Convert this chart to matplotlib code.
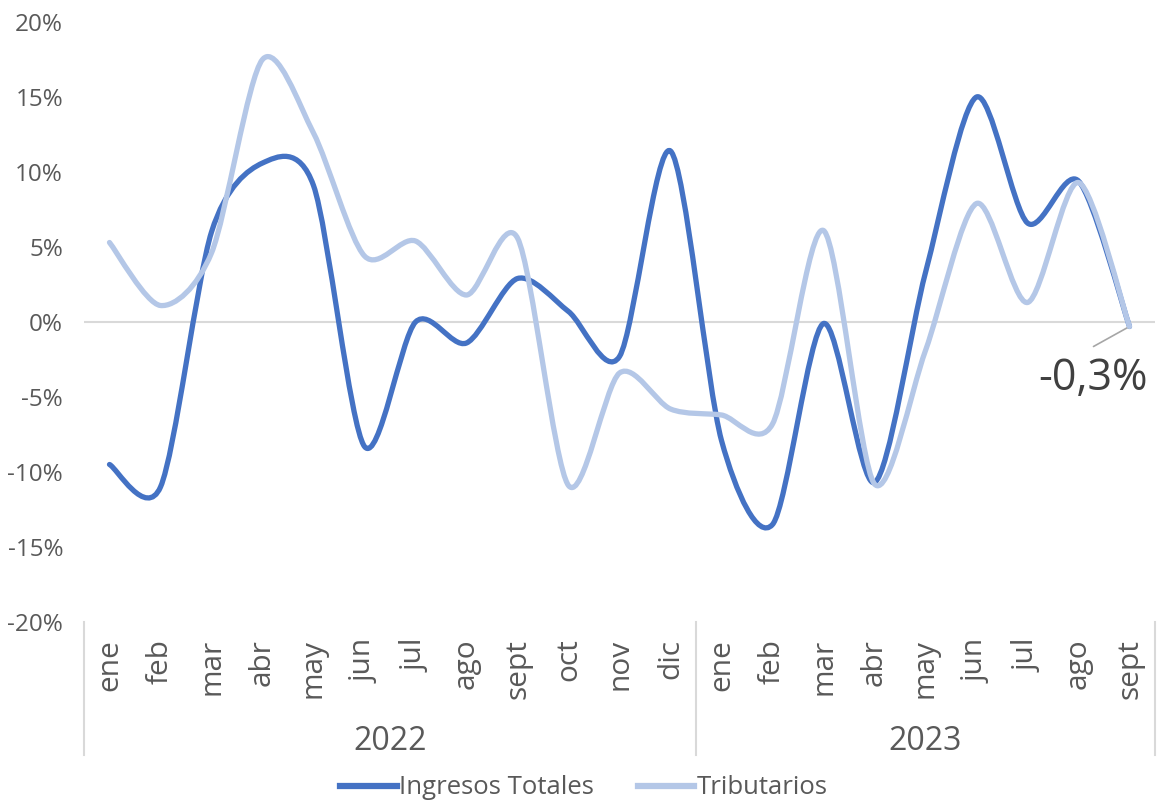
import matplotlib
matplotlib.use("Agg")
import matplotlib.pyplot as plt
from matplotlib.path import Path
from matplotlib.patches import PathPatch
from matplotlib.lines import Line2D
import matplotlib.transforms as mtransforms

# ---- data ----------------------------------------------------------------- #
months = ["ene", "feb", "mar", "abr", "may", "jun", "jul", "ago", "sept",
          "oct", "nov", "dic",
          "ene", "feb", "mar", "abr", "may", "jun", "jul", "ago", "sept"]
years = ["2022", "2023"]
year_counts = [12, 9]

ingresos_totales = [-9.5, -11.0, 6.0, 10.6, 9.1, -8.3, 0.0, -1.4, 2.9,
                    0.7, -2.3, 11.4,
                    -7.9, -13.5, -0.1, -10.7, 3.3, 15.0, 6.6, 9.4, -0.3]
tributarios = [5.3, 1.1, 4.6, 17.5, 12.6, 4.4, 5.4, 1.8, 5.6,
               -10.9, -3.4, -5.8,
               -6.2, -6.8, 6.1, -10.8, -1.9, 7.9, 1.3, 9.3, -0.3]
yticks = [-20, -15, -10, -5, 0, 5, 10, 15, 20]
last_label = "-0,3%"

DARK = "#4472C4"
LIGHT = "#B4C7E7"
TXT = "#595959"
GRID = "#D9D9D9"

plt.rcParams["font.family"] = ["Open Sans", "DejaVu Sans"]


def smooth_path(xs, ys, t=1.0 / 7.0):
    """Excel-like smoothed line: cubic Bezier through every point."""
    n = len(xs)
    verts = [(xs[0], ys[0])]
    codes = [Path.MOVETO]
    for i in range(n - 1):
        x0, y0 = (xs[i - 1], ys[i - 1]) if i > 0 else (xs[i], ys[i])
        x1, y1 = xs[i], ys[i]
        x2, y2 = xs[i + 1], ys[i + 1]
        x3, y3 = (xs[i + 2], ys[i + 2]) if i + 2 < n else (x2, y2)
        c1 = (x1 + (x2 - x0) * t, y1 + (y2 - y0) * t)
        c2 = (x2 - (x3 - x1) * t, y2 - (y3 - y1) * t)
        verts += [c1, c2, (x2, y2)]
        codes += [Path.CURVE4] * 3
    return Path(verts, codes)


W, H = 1158, 802
fig = plt.figure(figsize=(W / 100, H / 100), dpi=100)
L, R, T, B = 84, 1155, 22, 622
ax = fig.add_axes([L / W, 1 - B / H, (R - L) / W, (B - T) / H])

x = list(range(len(months)))
ax.set_xlim(-0.5, len(months) - 0.5)
ax.set_ylim(-20, 20)

ax.axhline(0, color=GRID, lw=1.5, zorder=1)

for series, col, z in [(ingresos_totales, DARK, 3), (tributarios, LIGHT, 4)]:
    ax.add_patch(PathPatch(smooth_path(x, series), facecolor="none",
                           edgecolor=col, lw=3.8, capstyle="round",
                           joinstyle="round", zorder=z))

# y axis
ax.set_yticks(yticks)
ax.set_yticklabels(["%d%%" % v for v in yticks])
ax.tick_params(axis="y", length=0, pad=15, labelsize=17.5, labelcolor=TXT)
for s in ax.spines.values():
    s.set_visible(False)

# month labels
ax.set_xticks(x)
ax.set_xticklabels(months, rotation=90, va="top", ha="center")
ax.tick_params(axis="x", length=0, pad=12, labelsize=21.5, labelcolor=TXT)

# year groups + separators
tr = mtransforms.blended_transform_factory(ax.transData, ax.transAxes)
edges = [-0.5]
for c in year_counts:
    edges.append(edges[-1] + c)
for e in edges:
    ax.plot([e, e], [0, -0.222], transform=tr, color=GRID, lw=1.5,
            clip_on=False)
for yr, a, b in zip(years, edges[:-1], edges[1:]):
    ax.text((a + b) / 2, -0.2, yr, transform=tr, ha="center",
            va="center", fontsize=23, color=TXT)

# data label on the last point (leader line + value)
last = (x[-1], tributarios[-1])
ax.annotate("", xy=last, xytext=(-36, -20), textcoords="offset pixels",
            arrowprops=dict(arrowstyle="-", color="#A6A6A6", lw=1.2,
                            shrinkA=0, shrinkB=0))
ax.annotate(last_label, xy=last, xytext=(-37, -52),
            textcoords="offset pixels", ha="center", va="center",
            fontsize=31, color="#404040")

handles = [Line2D([], [], color=DARK, lw=4.5),
           Line2D([], [], color=LIGHT, lw=4.5)]
fig.legend(handles, ["Ingresos Totales", "Tributarios"], loc="center",
           bbox_to_anchor=(584 / W, 1 - 788 / H), ncol=2, frameon=False,
           fontsize=18.5, labelcolor=TXT, handlelength=2.2,
           handletextpad=0.1, columnspacing=1.7)

fig.savefig("out.png", dpi=100)
